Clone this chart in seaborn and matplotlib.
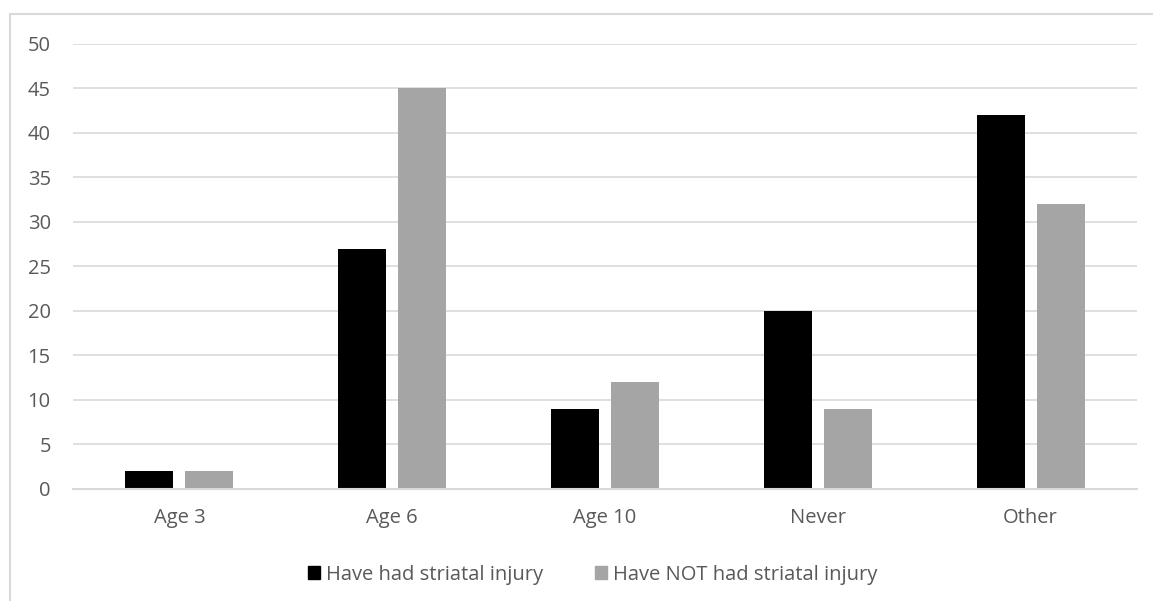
import matplotlib
matplotlib.use("Agg")
import matplotlib.pyplot as plt
import matplotlib.patches as mpatches
import seaborn as sns
import pandas as pd

categories = ["Age 3", "Age 6", "Age 10", "Never", "Other"]
had_injury = [2, 27, 9, 20, 42]
not_had_injury = [2, 45, 12, 9, 32]
series_names = ["Have had striatal injury", "Have NOT had striatal injury"]
y_ticks = [0, 5, 10, 15, 20, 25, 30, 35, 40, 45, 50]

df = pd.DataFrame({
    "category": categories * 2,
    "value": had_injury + not_had_injury,
    "series": [series_names[0]] * len(categories) + [series_names[1]] * len(categories),
})

sns.set_theme(style="white")
plt.rcParams["font.family"] = ["Open Sans", "DejaVu Sans"]

text_color = "#595959"
grid_color = "#D9D9D9"
palette = {series_names[0]: "#000000", series_names[1]: "#A5A5A5"}
font_size = 14.5

fig = plt.figure(figsize=(11.53, 6.01), dpi=100)
ax = fig.add_axes([0.0633, 0.1864, 0.9228, 0.7404])

sns.barplot(data=df, x="category", y="value", hue="series", order=categories,
            hue_order=series_names, palette=palette, width=0.564, gap=0.2,
            saturation=1, linewidth=0, ax=ax, legend=False)

ax.set_ylim(0, 50)
ax.set_xlim(-0.5, len(categories) - 0.5)
ax.set_yticks(y_ticks)
ax.yaxis.grid(True, color=grid_color, linewidth=1.2)
ax.set_axisbelow(True)
for side in ["top", "right", "left"]:
    ax.spines[side].set_visible(False)
ax.spines["bottom"].set_color(grid_color)
ax.spines["bottom"].set_linewidth(1.5)
ax.tick_params(axis="y", length=0, pad=16, labelsize=font_size, labelcolor=text_color)
ax.tick_params(axis="x", length=0, pad=14, labelsize=font_size, labelcolor=text_color)
ax.set_xlabel("")
ax.set_ylabel("")

handles = [mpatches.Patch(color=palette[s], label=s) for s in series_names]
fig.legend(handles=handles, loc="center", bbox_to_anchor=(0.514, 0.044), ncol=2,
           frameon=False, fontsize=font_size, labelcolor=text_color, handlelength=0.6,
           handleheight=0.6, handletextpad=0.3, columnspacing=2.6)

# Light frame around the chart area
fig.add_artist(mpatches.Rectangle((0.0087, -0.02), 1.1, 0.9967, transform=fig.transFigure,
                                  fill=False, edgecolor=grid_color, linewidth=1.5))

fig.savefig("out.png", dpi=100, facecolor="white")
